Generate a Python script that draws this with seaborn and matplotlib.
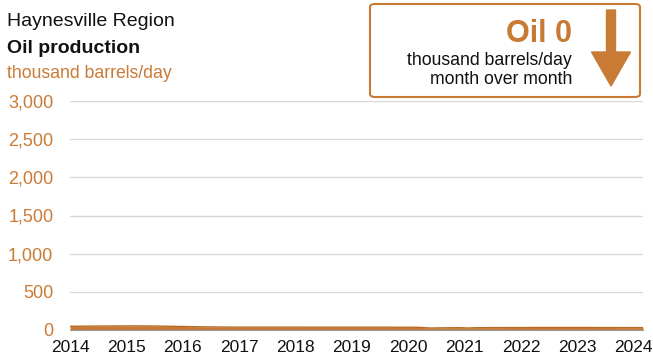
import pandas as pd
import numpy as np
import matplotlib
matplotlib.use("Agg")
import matplotlib.pyplot as plt
import seaborn as sns
from matplotlib.patches import FancyBboxPatch, FancyArrow

# monthly oil production, thousand barrels/day
oil_2014 = [48, 49, 50, 50, 51, 51, 52, 52, 52, 53, 53, 53]
oil_2015 = [54, 54, 54, 54, 53, 53, 52, 51, 50, 49, 48, 47]
oil_2016 = [46, 45, 44, 43, 42, 41, 40, 40, 39, 39, 38, 38]
oil_2017 = [38, 38, 38, 38, 38, 38, 38, 38, 38, 38, 38, 38]
oil_2018 = [38, 38, 38, 37, 37, 37, 37, 37, 37, 37, 37, 37]
oil_2019 = [37, 37, 37, 37, 37, 37, 37, 37, 37, 36, 36, 36]
oil_2020 = [36, 36, 35, 33, 28, 26, 27, 28, 29, 29, 30, 30]
oil_2021 = [28, 26, 29, 30, 30, 31, 31, 31, 31, 32, 32, 32]
oil_2022 = [32, 32, 32, 33, 33, 33, 33, 33, 33, 33, 33, 33]
oil_2023 = [33, 33, 33, 33, 32, 32, 32, 32, 32, 31, 31, 31]
oil_2024 = [31, 31, 31]

values = (oil_2014 + oil_2015 + oil_2016 + oil_2017 + oil_2018 + oil_2019
          + oil_2020 + oil_2021 + oil_2022 + oil_2023 + oil_2024)
dates = pd.date_range("2014-01-01", periods=len(values), freq="MS")
df = pd.DataFrame({"date": dates, "oil": values})

year_ticks = list(range(2014, 2025))
y_ticks = [0, 500, 1000, 1500, 2000, 2500, 3000]

orange = "#c97b35"
grid_col = "#d9d9d9"

sns.set_style("white")
plt.rcParams["font.family"] = ["Liberation Sans", "DejaVu Sans"]

fig = plt.figure(figsize=(6.53, 3.62), dpi=100)
ax = fig.add_axes([70 / 653, 1 - 330 / 362, 573 / 653, 229 / 362])

ax.fill_between(df["date"], 0, df["oil"], color=orange, linewidth=0)
sns.lineplot(data=df, x="date", y="oil", ax=ax, color="#b86a25", linewidth=1)

ax.set_ylim(0, 3000)
ax.set_xlim(df["date"].iloc[0], df["date"].iloc[-1])
ax.set_yticks(y_ticks)
ax.set_yticklabels([f"{v:,}" for v in y_ticks], color=orange, fontsize=13)
ax.set_xticks([pd.Timestamp(f"{y}-01-01") for y in year_ticks])
ax.set_xticklabels([str(y) for y in year_ticks], fontsize=12.5, color="#111111")
ax.set_xlabel("")
ax.set_ylabel("")

for v in y_ticks[1:]:
    ax.axhline(v, color=grid_col, linewidth=1, zorder=0)

for s in ["top", "right", "left"]:
    ax.spines[s].set_visible(False)
ax.spines["bottom"].set_color("#999999")
ax.tick_params(axis="x", direction="out", length=4, color="#999999", pad=3)
ax.tick_params(axis="y", length=0, pad=12)
ax.set_zorder(1)

fig.text(7 / 653, 1 - 26 / 362, "Haynesville Region", fontsize=14, color="#111111")
fig.text(7 / 653, 1 - 53 / 362, "Oil production", fontsize=14, fontweight="bold", color="#111111")
fig.text(7 / 653, 1 - 78 / 362, "thousand barrels/day", fontsize=12.7, color=orange)

box = FancyBboxPatch((370 / 653, 1 - 97 / 362), 270 / 653, 93 / 362,
                     boxstyle="round,pad=0,rounding_size=0.008",
                     transform=fig.transFigure, facecolor="white",
                     edgecolor=orange, linewidth=1.5, zorder=2)
fig.patches.append(box)

fig.text(572 / 653, 1 - 42 / 362, "Oil 0", fontsize=22, fontweight="bold",
         color=orange, ha="right", zorder=3)
fig.text(572 / 653, 1 - 65 / 362, "thousand barrels/day", fontsize=12.7,
         color="#111111", ha="right", zorder=3)
fig.text(572 / 653, 1 - 84 / 362, "month over month", fontsize=12.7,
         color="#111111", ha="right", zorder=3)

arrow = FancyArrow(611 / 653, 1 - 10 / 362, 0, -(76 / 362),
                   width=9 / 653, head_width=39 / 653, head_length=34 / 362,
                   length_includes_head=True, transform=fig.transFigure,
                   color=orange, zorder=3)
fig.patches.append(arrow)

fig.savefig("out.png", dpi=100)
